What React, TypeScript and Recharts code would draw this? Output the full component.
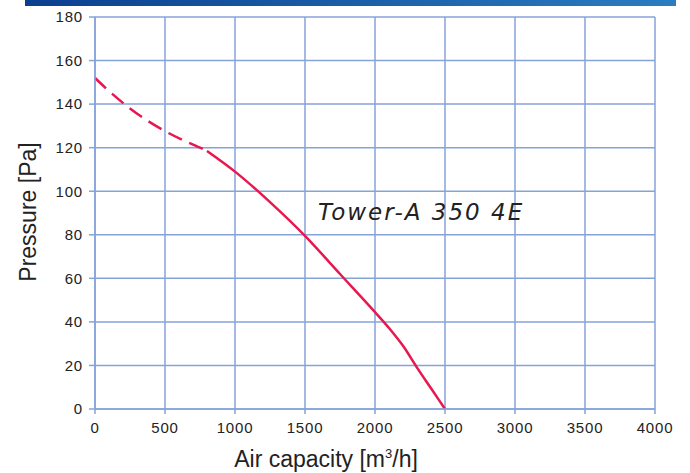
import React from 'react';
import {
  LineChart,
  Line,
  XAxis,
  YAxis,
  CartesianGrid,
} from 'recharts';

// air capacity [m3/h]
const airflow = [0, 100, 250, 500, 750, 800, 1000, 1250, 1500, 1750, 2000, 2100, 2200, 2300, 2400, 2500];
// pressure [Pa], first part drawn dashed
const pressure = [152, 146, 138, 127.6, 120, 118.5, 109, 95, 79.5, 62, 44.5, 37.2, 29, 19, 9.5, 0];
const dashedEnd = 800;

const xTicks = [0, 500, 1000, 1500, 2000, 2500, 3000, 3500, 4000];
const yTicks = [0, 20, 40, 60, 80, 100, 120, 140, 160, 180];

const data = airflow.map((q, i) => ({
  q,
  dashed: q <= dashedEnd ? pressure[i] : null,
  solid: q >= dashedEnd ? pressure[i] : null,
}));

const GRID = '#86a3d8';
const CURVE = '#e8174f';
const FONT = '"Liberation Sans", Arial, sans-serif';
const tickStyle = { fill: '#222', fontSize: 15, fontFamily: FONT, letterSpacing: 0.8 };

const App = () => (
  <div style={{ position: 'absolute', left: 0, top: 0, width: 690, height: 473, background: '#fff', fontFamily: FONT }}>
    <div
      style={{
        position: 'absolute',
        left: 25,
        top: 0,
        width: 651,
        height: 6,
        background: 'linear-gradient(to right, #0b3f8f, #2b7cc0)',
      }}
    />
    <LineChart
      width={690}
      height={473}
      data={data}
      margin={{ top: 17, right: 35, bottom: 24, left: 35 }}
    >
      <CartesianGrid stroke={GRID} strokeWidth={1.5} />
      <XAxis
        dataKey="q"
        type="number"
        domain={[0, 4000]}
        ticks={xTicks}
        height={40}
        tickSize={5}
        tickMargin={8}
        stroke={GRID}
        strokeWidth={1.5}
        tick={tickStyle}
        interval={0}
      />
      <YAxis
        type="number"
        domain={[0, 180]}
        ticks={yTicks}
        width={60}
        tickSize={6}
        tickMargin={6}
        stroke={GRID}
        strokeWidth={1.5}
        tick={tickStyle}
        interval={0}
      />
      <Line
        dataKey="dashed"
        type="monotone"
        stroke={CURVE}
        strokeWidth={2.5}
        strokeDasharray="15 8"
        dot={false}
        connectNulls={false}
        isAnimationActive={false}
      />
      <Line
        dataKey="solid"
        type="monotone"
        stroke={CURVE}
        strokeWidth={2.5}
        dot={false}
        connectNulls={false}
        isAnimationActive={false}
      />
    </LineChart>
    <div
      style={{
        position: 'absolute',
        left: 318,
        top: 199,
        fontSize: 23,
        fontStyle: 'italic',
        color: '#222',
        letterSpacing: 2,
        fontFamily: '"DejaVu Sans", sans-serif',
      }}
    >
      Tower-A 350 4E
    </div>
    <div
      style={{
        position: 'absolute',
        left: 28,
        top: 212,
        transform: 'translate(-50%, -50%) rotate(-90deg)',
        fontSize: 23,
        color: '#222',
        whiteSpace: 'nowrap',
      }}
    >
      Pressure [Pa]
    </div>
    <div
      style={{
        position: 'absolute',
        left: 326,
        top: 459,
        transform: 'translate(-50%, -50%)',
        fontSize: 23,
        color: '#222',
        whiteSpace: 'nowrap',
      }}
    >
      Air capacity [m<sup style={{ fontSize: 13 }}>3</sup>/h]
    </div>
  </div>
);

export default App;
